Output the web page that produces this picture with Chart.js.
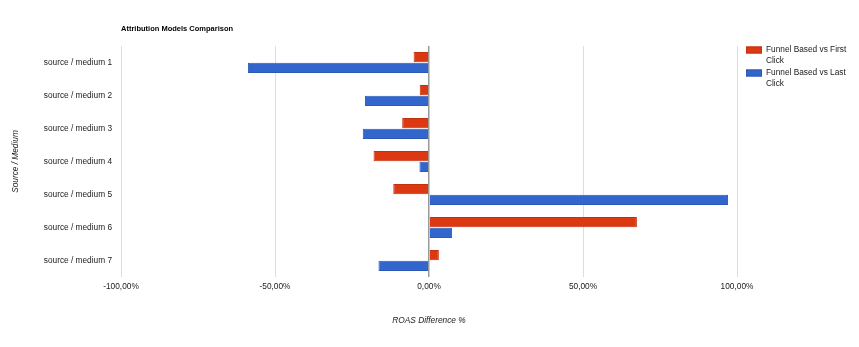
<!DOCTYPE html>
<html>
<head>
<meta charset="utf-8">
<script src="https://cdn.jsdelivr.net/npm/chart.js@4"></script>
<style>
  html, body { margin: 0; padding: 0; background: #fff; }
  #wrap { width: 859px; height: 347px; position: relative; }
</style>
</head>
<body>
<div id="wrap"><canvas id="c" width="859" height="347"></canvas></div>
<script>
// Data
const categories = [
  'source / medium 1', 'source / medium 2', 'source / medium 3', 'source / medium 4',
  'source / medium 5', 'source / medium 6', 'source / medium 7'
];
const firstClickDiff = [-5.0, -3.0, -8.7, -18.0, -11.6, 67.5, 3.2];
const lastClickDiff = [-58.8, -20.8, -21.5, -3.1, 97.1, 7.5, -16.4];
const seriesNames = ['Funnel Based vs First Click', 'Funnel Based vs Last Click'];
const tickValues = [-100, -50, 0, 50, 100];
const chartTitle = 'Attribution Models Comparison';
const xAxisTitle = 'ROAS Difference %';
const yAxisTitle = 'Source / Medium';

const FONT = '"Liberation Sans", Arial, sans-serif';
const fmtPct = v => v.toFixed(2).replace('.', ',') + '%';

// Title drawn flush with the left edge of the plot area
const titlePlugin = {
  id: 'leftTitle',
  afterDraw(chart) {
    const ctx = chart.ctx;
    ctx.save();
    ctx.font = 'bold 7.5px ' + FONT;
    ctx.fillStyle = '#000';
    ctx.textBaseline = 'middle';
    ctx.textAlign = 'left';
    ctx.fillText(chartTitle, chart.chartArea.left, 29);
    ctx.restore();
  }
};

// Legend on the right, with wrapped labels
const sideLegend = {
  id: 'sideLegend',
  afterDraw(chart) {
    const ctx = chart.ctx;
    const x0 = chart.chartArea.right + 9;
    const textX = x0 + 20;
    const maxW = chart.width - textX - 4;
    let y = 50;
    ctx.save();
    ctx.font = '8.3px ' + FONT;
    ctx.textBaseline = 'middle';
    ctx.textAlign = 'left';
    chart.data.datasets.forEach(ds => {
      const words = ds.label.split(' ');
      const lines = [];
      let cur = '';
      words.forEach(w => {
        const t = cur ? cur + ' ' + w : w;
        if (ctx.measureText(t).width > maxW && cur) { lines.push(cur); cur = w; }
        else cur = t;
      });
      if (cur) lines.push(cur);
      ctx.fillStyle = ds.backgroundColor;
      ctx.fillRect(x0, y - 3.5, 16, 7);
      ctx.strokeStyle = ds.borderColor;
      ctx.lineWidth = 1;
      ctx.strokeRect(x0 + 0.5, y - 3.5 + 0.5, 15, 6);
      ctx.fillStyle = '#1a1a1a';
      lines.forEach((ln, i) => ctx.fillText(ln, textX, y + i * 10.5));
      y += 23;
    });
    ctx.restore();
  }
};

new Chart(document.getElementById('c'), {
  type: 'bar',
  data: {
    labels: categories,
    datasets: [
      {
        label: seriesNames[0],
        data: firstClickDiff,
        backgroundColor: '#dc3912',
        borderColor: '#c2320f',
        borderWidth: 1,
        categoryPercentage: 0.64,
        barPercentage: 0.97
      },
      {
        label: seriesNames[1],
        data: lastClickDiff,
        backgroundColor: '#3366cc',
        borderColor: '#2c59b5',
        borderWidth: 1,
        categoryPercentage: 0.64,
        barPercentage: 0.97
      }
    ]
  },
  options: {
    indexAxis: 'y',
    responsive: false,
    animation: false,
    devicePixelRatio: 1,
    layout: { padding: { top: 46, right: 122, left: 0, bottom: 0 } },
    plugins: {
      legend: { display: false },
      title: { display: false },
      tooltip: { enabled: false }
    },
    scales: {
      x: {
        type: 'linear',
        min: -100,
        max: 100,
        afterBuildTicks: scale => { scale.ticks = tickValues.map(v => ({ value: v })); },
        afterFit: scale => { scale.height = 70; },
        border: { display: false },
        grid: {
          drawTicks: false,
          color: c => (c.tick && c.tick.value === 0) ? '#9a9a9a' : '#dedede',
          lineWidth: c => (c.tick && c.tick.value === 0) ? 1.5 : 1
        },
        ticks: {
          padding: 5,
          color: '#1a1a1a',
          font: { family: FONT, size: 8.3 },
          callback: v => fmtPct(v)
        },
        title: {
          display: true,
          text: xAxisTitle,
          color: '#1a1a1a',
          font: { family: FONT, size: 8.3, style: 'italic' },
          padding: { top: 4, bottom: 21.6 }
        }
      },
      y: {
        afterFit: scale => { scale.width = 121; },
        border: { display: false },
        grid: { display: false, drawTicks: false },
        ticks: {
          padding: 9,
          color: '#1a1a1a',
          font: { family: FONT, size: 8.3 }
        },
        title: {
          display: true,
          text: yAxisTitle,
          color: '#1a1a1a',
          font: { family: FONT, size: 8.3, style: 'italic' },
          padding: { top: 11, bottom: 0 }
        }
      }
    }
  },
  plugins: [titlePlugin, sideLegend]
});
</script>
</body>
</html>
